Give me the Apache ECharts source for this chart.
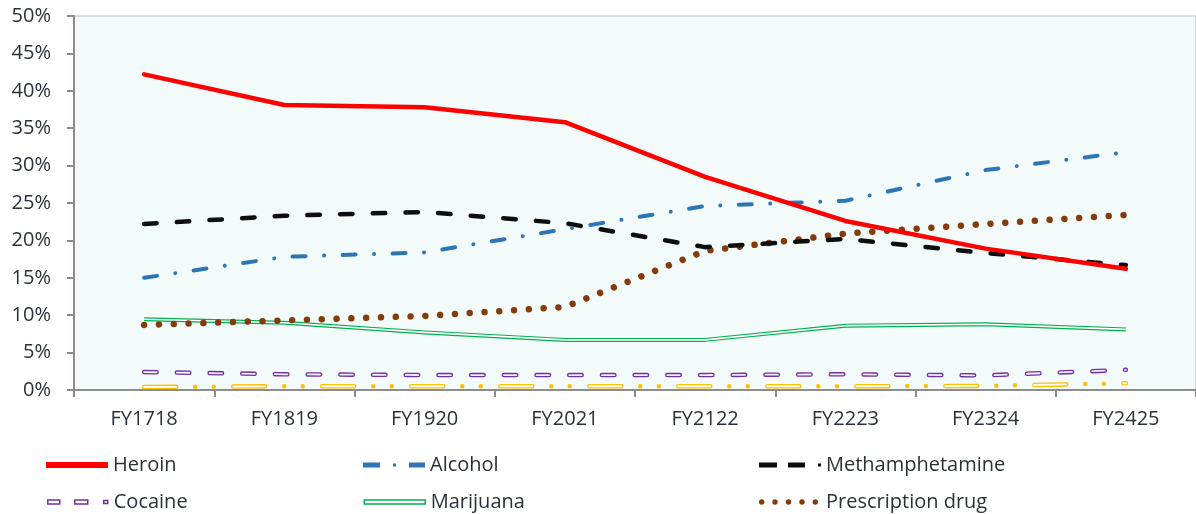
<!DOCTYPE html>
<html>
<head>
<meta charset="utf-8">
<script src="https://cdn.jsdelivr.net/npm/echarts@6/dist/echarts.min.js"></script>
<style>
html,body{margin:0;padding:0;background:#fff;}
#chart{width:1196px;height:514px;}
</style>
</head>
<body>
<div id="chart"></div>
<script>
var categories = ['FY1718','FY1819','FY1920','FY2021','FY2122','FY2223','FY2324','FY2425'];
var heroin = [42.2, 38.1, 37.8, 35.8, 28.5, 22.6, 18.9, 16.2];
var alcohol = [15.0, 17.8, 18.4, 21.5, 24.6, 25.3, 29.4, 31.8];
var methamphetamine = [22.2, 23.3, 23.8, 22.3, 19.1, 20.2, 18.3, 16.7];
var cocaine = [2.4, 2.1, 2.0, 2.0, 2.0, 2.1, 1.95, 2.7];
var marijuana = [9.45, 9.0, 7.7, 6.7, 6.7, 8.6, 8.8, 8.1];
var prescription = [8.7, 9.3, 9.9, 11.1, 18.6, 20.9, 22.2, 23.4];
var other = [0.4, 0.5, 0.5, 0.5, 0.5, 0.5, 0.55, 0.9];
var yTicks = [0, 5, 10, 15, 20, 25, 30, 35, 40, 45, 50];

var FONT = '"Open Sans", "Noto Sans", sans-serif';
var TXT = '#2b313b';

function line(name, data, color, width, type, cap, extra) {
  var s = {
    name: name, type: 'line', data: data, symbol: 'none', showSymbol: false,
    smooth: false, animation: false, silent: true,
    lineStyle: { color: color, width: width, type: type || 'solid', cap: cap || 'butt', join: 'round' },
    itemStyle: { color: color }
  };
  if (extra) { for (var k in extra) s[k] = extra[k]; }
  return s;
}

function legendItem(name, left, top, icon, style) {
  return {
    show: true, left: left, top: top, orient: 'horizontal', padding: 0,
    itemWidth: 62, itemHeight: 6, itemGap: 0, symbolKeepAspect: false,
    selectedMode: false,
    textStyle: { fontFamily: FONT, fontSize: 20, color: TXT, lineHeight: 22 },
    data: [{ name: name, icon: icon, itemStyle: style }]
  };
}

var circ = function (cx) { return 'M' + (cx - 2.7) + ',3 a2.7,2.7 0 1,0 5.4,0 a2.7,2.7 0 1,0 -5.4,0 Z '; };
var presPath = 'path://' + circ(2.7) + circ(16) + circ(29.5) + circ(43) + circ(56.3) + 'M0,0 L0,0 M62,6 L62,6';

var row1 = 454, row2 = 491;
var chart = echarts.init(document.getElementById('chart'), null, { renderer: 'canvas' });
chart.setOption({
  animation: false,
  backgroundColor: '#ffffff',
  grid: {
    left: 74, right: -6, top: 16, bottom: 124, show: true,
    backgroundColor: '#f2fbfa', borderColor: '#bfbfbf', borderWidth: 1
  },
  xAxis: {
    type: 'category', data: categories, boundaryGap: true,
    axisLine: { show: true, lineStyle: { color: '#8c8c8c', width: 2 } },
    axisTick: { show: true, length: 7, alignWithLabel: false, lineStyle: { color: '#8c8c8c', width: 2 } },
    axisLabel: { margin: 19, fontFamily: FONT, fontSize: 20, color: TXT },
    splitLine: { show: false }
  },
  yAxis: {
    type: 'value', min: 0, max: 50, interval: 5,
    axisLine: { show: true, lineStyle: { color: '#8c8c8c', width: 2 } },
    axisTick: { show: true, length: 7, lineStyle: { color: '#8c8c8c', width: 2 } },
    axisLabel: { margin: 23, fontFamily: FONT, fontSize: 20, color: TXT, formatter: function (v) { return v + '%'; } },
    splitLine: { show: false }
  },
  legend: [
    legendItem('Heroin', 46, row1, 'path://M0,0.5 H62 V5.5 H0 Z', { color: '#ff0000', borderWidth: 0 }),
    legendItem('Alcohol', 363, row1, 'path://M0,0.5 H17 V5.5 H0 Z M30,1.5 H33 V4.5 H30 Z M46,0.5 H62 V5.5 H46 Z M0,0 L0,0 M62,6 L62,6', { color: '#2e75b6', borderWidth: 0 }),
    legendItem('Methamphetamine', 759, row1, 'path://M0,0.5 H18 V5.5 H0 Z M29,0.5 H46 V5.5 H29 Z M59,1.5 H62 V4.5 H59 Z M0,0 L0,0 M62,6 L62,6', { color: '#0d0d0d', borderWidth: 0 }),
    legendItem('Cocaine', 46, row2, 'path://M1,1 H13 V5 H1 Z M28,1 H41 V5 H28 Z M57,1.5 H61 V4.5 H57 Z M0,0 L0,0 M62,6 L62,6', { color: '#ffffff', borderColor: '#7030a0', borderWidth: 1.5 }),
    legendItem('Marijuana', 363, row2, 'path://M0.5,1 H61.5 V5 H0.5 Z M0,0 L0,0 M62,6 L62,6', { color: '#ffffff', borderColor: '#00b050', borderWidth: 1.5 }),
    legendItem('Prescription drug', 759, row2, presPath, { color: '#843c0c', borderWidth: 0 })
  ],
  series: [
    line('Other', other, '#ffc000', 4.5, [32, 19, 0.01, 18.6, 0.01, 19.4], 'round'),
    line('Other inner', other, '#fffdf2', 1.8, [32, 57], 'round'),
    line('Cocaine', cocaine, '#7030a0', 4.5, [12.5, 20.2], 'round'),
    line('Cocaine inner', cocaine, '#f4eefa', 1.8, [12.5, 20.2], 'round'),
    line('Marijuana', marijuana, '#00b050', 4, 'solid', 'butt'),
    line('Marijuana inner', marijuana, '#ffffff', 1.6, 'solid', 'butt'),
    line('Prescription drug', prescription, '#843c0c', 6.5, [0.01, 14.8], 'round'),
    line('Methamphetamine', methamphetamine, '#0d0d0d', 4.5, [12.5, 20.2], 'round'),
    line('Alcohol', alcohol, '#2e75b6', 4, [13, 18.5, 0.01, 18.5], 'round'),
    line('Heroin', heroin, '#ff0000', 4.5, 'solid', 'round')
  ]
});
</script>
</body>
</html>
